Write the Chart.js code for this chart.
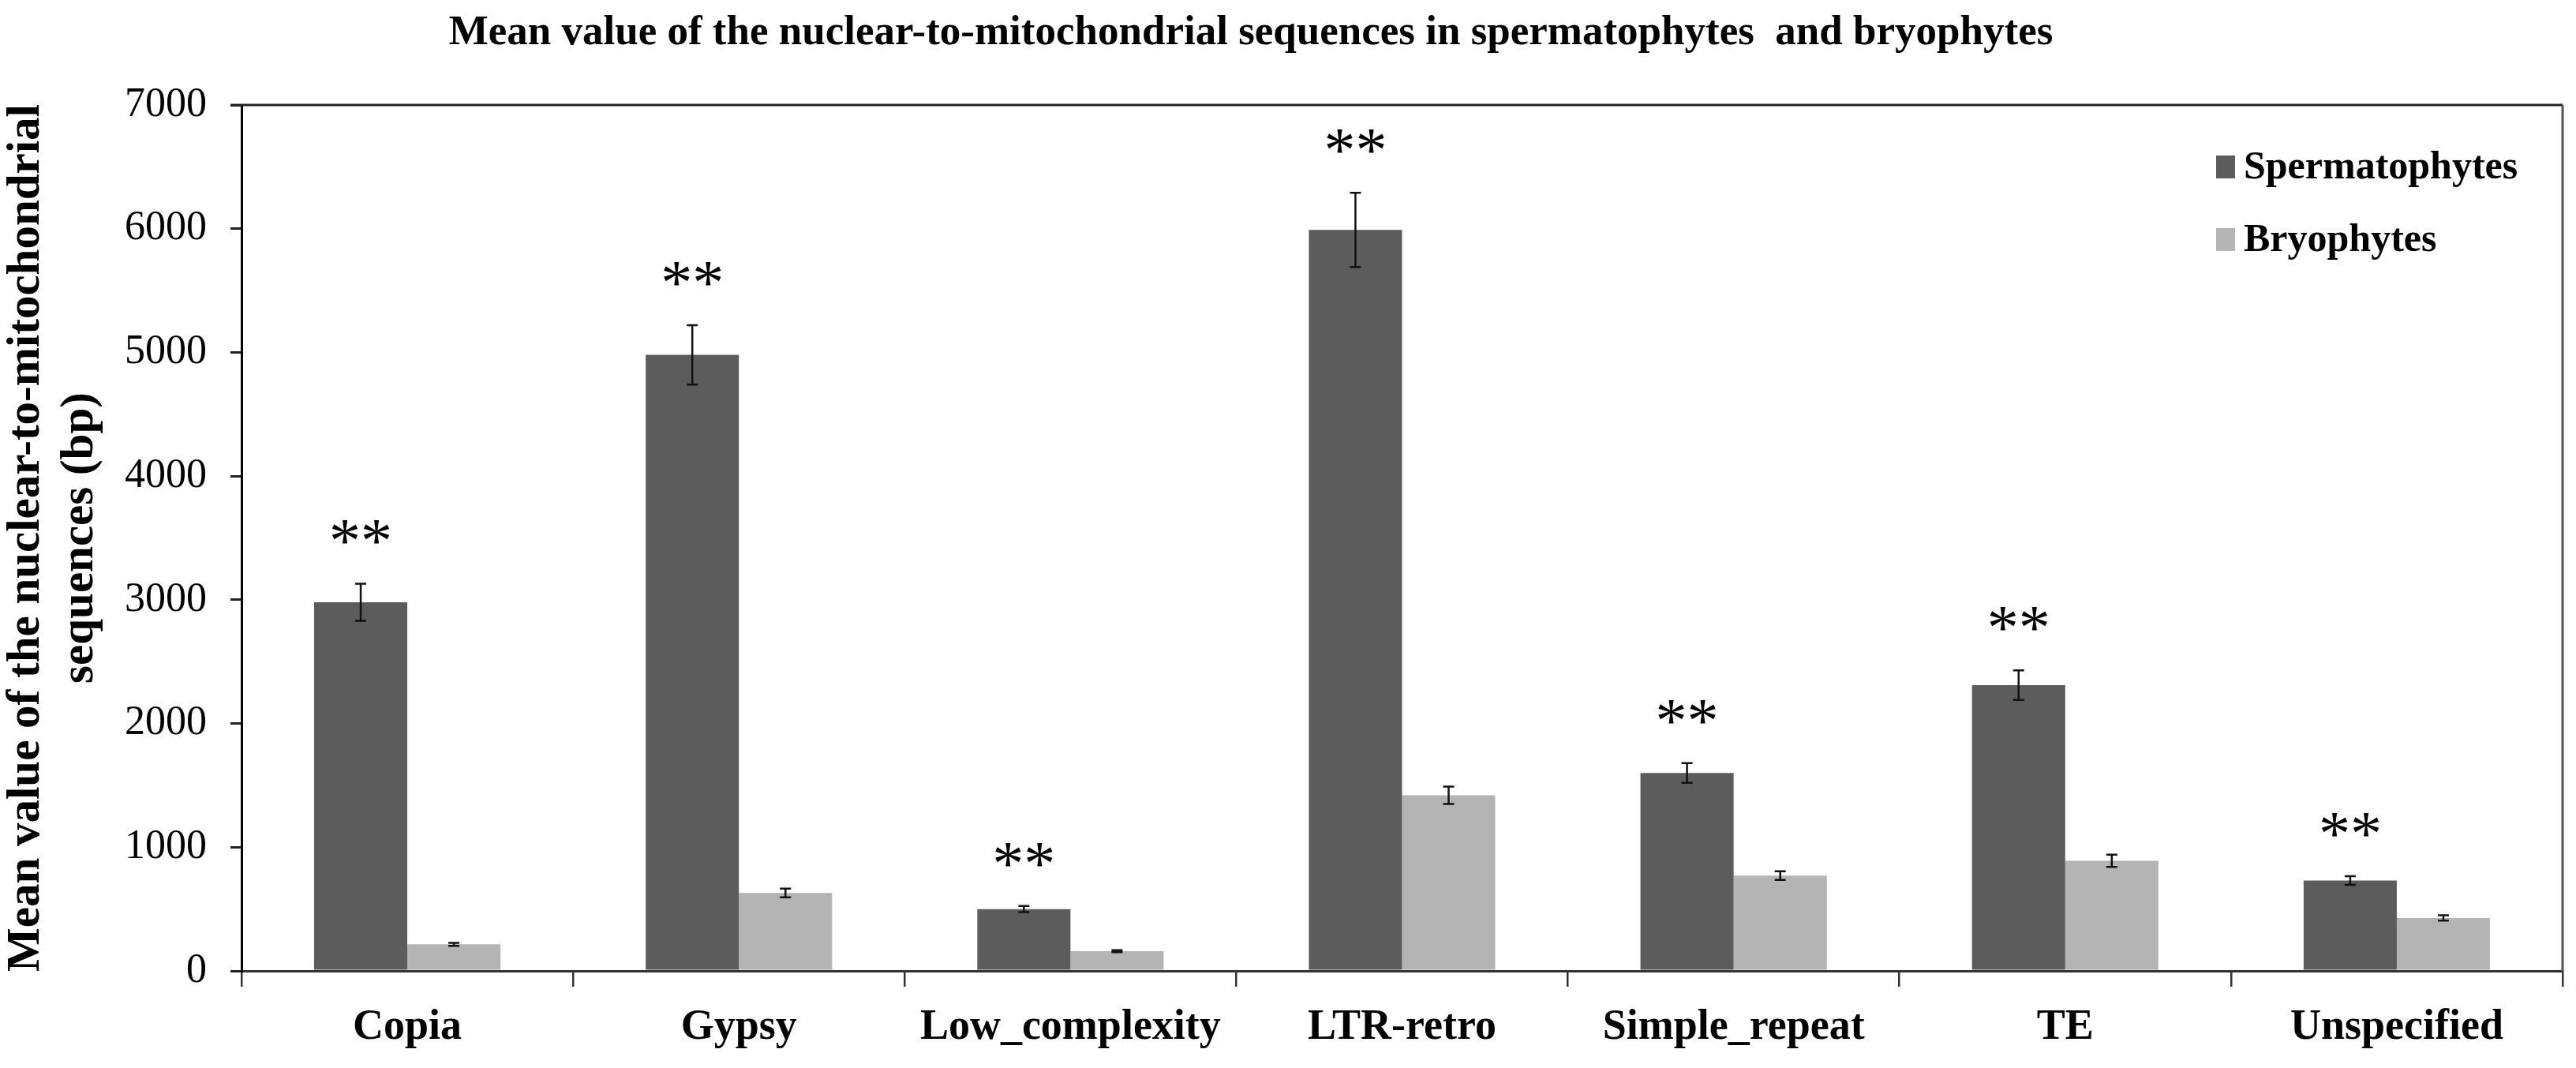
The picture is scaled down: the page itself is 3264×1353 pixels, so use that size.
<!DOCTYPE html>
<html>
<head>
<meta charset="utf-8">
<script src="https://cdn.jsdelivr.net/npm/chart.js@4.4.1/dist/chart.umd.min.js"></script>
<style>
  html, body { margin: 0; padding: 0; background: #fff; }
  canvas { display: block; }
</style>
</head>
<body>
<canvas id="myChart" width="3264" height="1353"></canvas>
<script>
const categories = ['Copia', 'Gypsy', 'Low_complexity', 'LTR-retro', 'Simple_repeat', 'TE', 'Unspecified'];
const spermatophytes = [2980, 4980, 500, 5990, 1600, 2310, 730];
const spermatophytesErr = [150, 240, 25, 300, 80, 120, 35];
const bryophytes = [215, 630, 160, 1420, 770, 890, 428];
const bryophytesErr = [12, 35, 8, 70, 35, 50, 22];
const significance = ['**', '**', '**', '**', '**', '**', '**'];
const yTicks = [0, 1000, 2000, 3000, 4000, 5000, 6000, 7000];

const chartTitle = 'Mean value of the nuclear-to-mitochondrial sequences in spermatophytes  and bryophytes';
const yTitle = ['Mean value of the nuclear-to-mitochondrial', 'sequences (bp)'];

const serif = "'Liberation Serif', 'Times New Roman', serif";
const errors = [spermatophytesErr, bryophytesErr];

// error bars, stars, plot box, legend, title
const extras = {
  id: 'extras',
  afterDatasetsDraw(chart) {
    const ctx = chart.ctx;
    const y = chart.scales.y;
    const area = chart.chartArea;

    ctx.save();
    ctx.strokeStyle = '#111';
    ctx.lineWidth = 2.5;
    chart.data.datasets.forEach((ds, i) => {
      chart.getDatasetMeta(i).data.forEach((bar, j) => {
        const v = ds.data[j], e = errors[i][j];
        const top = y.getPixelForValue(v + e);
        const bot = y.getPixelForValue(v - e);
        ctx.beginPath();
        ctx.moveTo(bar.x, top); ctx.lineTo(bar.x, bot);
        ctx.moveTo(bar.x - 7, top); ctx.lineTo(bar.x + 7, top);
        ctx.moveTo(bar.x - 7, bot); ctx.lineTo(bar.x + 7, bot);
        ctx.stroke();
      });
    });

    // significance stars above spermatophytes bars
    ctx.fillStyle = '#000';
    ctx.font = '80px ' + serif;
    ctx.textAlign = 'center';
    ctx.textBaseline = 'middle';
    chart.getDatasetMeta(0).data.forEach((bar, j) => {
      const top = y.getPixelForValue(spermatophytes[j] + spermatophytesErr[j]);
      ctx.fillText(significance[j], bar.x, top - 48);
    });

    // top and right border of plot area
    ctx.strokeStyle = '#222';
    ctx.lineWidth = 3;
    ctx.beginPath();
    ctx.moveTo(area.left - 14, area.top);
    ctx.lineTo(area.right, area.top);
    ctx.stroke();
    ctx.strokeStyle = '#555';
    ctx.beginPath();
    ctx.moveTo(area.right, area.top);
    ctx.lineTo(area.right, area.bottom);
    ctx.stroke();

    // legend
    ctx.font = 'bold 50px ' + serif;
    ctx.textAlign = 'left';
    ctx.textBaseline = 'middle';
    chart.data.datasets.forEach((ds, i) => {
      const cy = area.top + 78 + i * 92;
      const bx = area.right - 439;
      ctx.fillStyle = ds.backgroundColor;
      ctx.fillRect(bx, cy - 14, 24, 29);
      ctx.fillStyle = '#000';
      ctx.fillText(ds.label, bx + 35, cy + 2);
    });

    // chart title
    ctx.font = 'bold 53px ' + serif;
    ctx.textAlign = 'center';
    ctx.textBaseline = 'middle';
    ctx.fillText(chartTitle, 1585, 42);
    ctx.restore();
  }
};

const chartCanvas = document.getElementById('myChart').getContext('2d');

new Chart(chartCanvas, {
  type: 'bar',
  data: {
    labels: categories,
    datasets: [
      { label: 'Spermatophytes', data: spermatophytes, backgroundColor: '#5c5c5c' },
      { label: 'Bryophytes', data: bryophytes, backgroundColor: '#b4b4b4' }
    ]
  },
  options: {
    responsive: false,
    animation: false,
    devicePixelRatio: 1,
    categoryPercentage: 0.562,
    barPercentage: 1.0,
    layout: { padding: { top: 133, right: 17, left: 0, bottom: 0 } },
    plugins: {
      legend: { display: false },
      title: { display: false },
      tooltip: { enabled: false }
    },
    scales: {
      x: {
        afterFit: (scale) => { scale.height = 123; },
        grid: {
          offset: true,
          drawOnChartArea: false,
          drawTicks: true,
          tickLength: 20,
          color: '#333',
          lineWidth: 2.5
        },
        border: { display: true, color: '#333', width: 3 },
        ticks: {
          color: '#000',
          padding: 20,
          font: { family: serif, size: 54, weight: 'bold' }
        }
      },
      y: {
        min: 0,
        max: 7000,
        afterFit: (scale) => { scale.width = 306; },
        afterBuildTicks: (scale) => { scale.ticks = yTicks.map(v => ({ value: v })); },
        grid: {
          drawOnChartArea: false,
          drawTicks: true,
          tickLength: 14,
          color: '#222',
          lineWidth: 3
        },
        border: { display: true, color: '#000', width: 3 },
        ticks: {
          color: '#000',
          padding: 30,
          font: { family: serif, size: 52 },
          callback: (v) => String(v)
        },
        title: {
          display: true,
          text: yTitle,
          color: '#000',
          padding: { top: 0, bottom: 0 },
          font: { family: serif, size: 59, weight: 'bold', lineHeight: 1.15 }
        }
      }
    }
  },
  plugins: [extras]
});
</script>
</body>
</html>
